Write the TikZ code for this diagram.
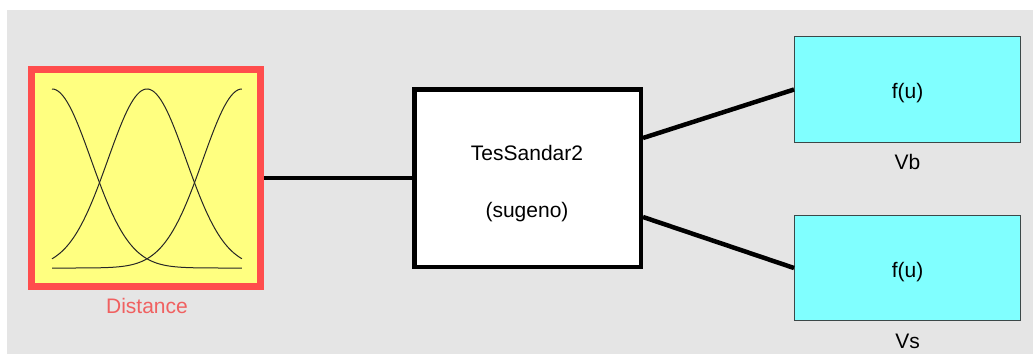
\documentclass[tikz,border=0pt]{standalone}
\usepackage{fontspec}
\setmainfont{Liberation Sans}
\definecolor{canvas}{RGB}{229,229,229}
\definecolor{inred}{RGB}{255,77,77}
\definecolor{inlabel}{RGB}{240,96,96}
\definecolor{inyellow}{RGB}{255,255,128}
\definecolor{outcyan}{RGB}{128,255,255}
\definecolor{outedge}{RGB}{60,72,72}
\tikzset{
  inputblock/.style={draw=inred, line width=7pt, fill=inyellow, inner sep=0pt,
    minimum width=229pt, minimum height=217pt},
  fisblock/.style={draw=black, line width=4.5pt, fill=white, inner sep=0pt,
    minimum width=226.5pt, minimum height=177.5pt},
  outblock/.style={draw=outedge, line width=1.3pt, fill=outcyan, inner sep=0pt,
    minimum width=225.6pt, minimum height=106pt},
  txt/.style={inner sep=0pt, anchor=base, font=\fontsize{21}{25}\selectfont},
  wire/.style={draw=black, line width=4.5pt},
  mf/.style={draw=black!85, line width=1pt},
}
\begin{document}
\begin{tikzpicture}[x=1pt,y=-1pt]
  \useasboundingbox (0,0) rectangle (1033,354);
  \fill[canvas] (7,10) rectangle (1033,354);

  % input membership-function block
  \node[inputblock] (dist) at (146,178) {};
  \draw[mf] plot[domain=0:1, samples=90, variable=\t]
    ({52+190*\t}, {268-179*exp(-((\t)^2)/0.0843)});
  \draw[mf] plot[domain=0:1, samples=90, variable=\t]
    ({52+190*\t}, {268-179*exp(-((\t-0.5)^2)/0.0843)});
  \draw[mf] plot[domain=0:1, samples=90, variable=\t]
    ({52+190*\t}, {268-179*exp(-((\t-1)^2)/0.0843)});
  \node[txt, text=inlabel] (distlbl) at (147,313) {Distance};

  % fuzzy inference system block
  \node[fisblock] (fis) at (527.5,178) {};
  \node[txt] (fisname) at (527,160) {TesSandar2};
  \node[txt] (fistype) at (527,217.5) {(sugeno)};

  % output blocks
  \node[outblock] (vb) at (907.5,89.5) {};
  \node[txt] (vbf) at (907.5,98.5) {f(u)};
  \node[txt] (vblbl) at (907.5,169) {Vb};

  \node[outblock, minimum height=105pt] (vs) at (907.5,268) {};
  \node[txt] (vsf) at (907.5,277) {f(u)};
  \node[txt] (vslbl) at (907.5,348) {Vs};

  % connections
  \draw[wire] (dist.east) -- (fis.west);
  \draw[wire] ([yshift=40pt]fis.east) -- (vb.west);
  \draw[wire] ([yshift=-39pt]fis.east) -- (vs.west);
\end{tikzpicture}
\end{document}
